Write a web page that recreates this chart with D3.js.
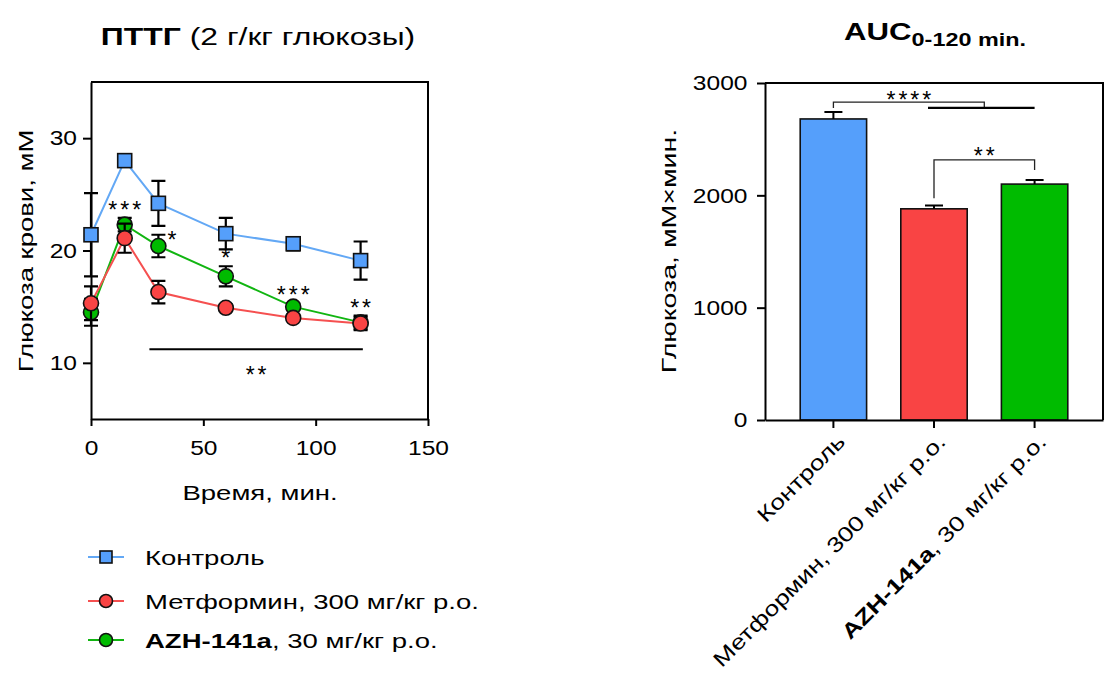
<!DOCTYPE html>
<html>
<head>
<meta charset="utf-8">
<script src="https://cdnjs.cloudflare.com/ajax/libs/d3/7.8.5/d3.min.js"></script>
<style>
    body { margin: 0; background: #fff; }
    svg text { font-family: "Liberation Sans", Arial, sans-serif; fill: #000; }
</style>
</head>
<body>
<svg id="chart" width="1105" height="673"></svg>
<script>
// ---- ПТТГ data (mean, error) ----
const timePoints = [0, 15, 30, 60, 90, 120];
const controlMean = [21.4, 28.0, 24.2, 21.5, 20.6, 19.1];
const controlErr = [3.7, 0.4, 2.0, 1.4, 0.6, 1.7];
const metforminMean = [15.3, 21.1, 16.3, 14.9, 14.0, 13.5];
const metforminErr = [1.5, 1.3, 1.0, 0.3, 0.3, 0.6];
const azhMean = [14.5, 22.3, 20.4, 17.7, 15.0, 13.6];
const azhErr = [1.2, 0.6, 1.0, 0.9, 0.3, 0.6];

const timeTicks = [0, 50, 100, 150];
const glucoseTicks = [10, 20, 30];

// significance marks at time points
const starTimes = [15, 30, 60, 90, 120];
const starLabels = ["***", "*", "*", "***", "**"];
const longBarRange = [26, 121];
const longBarLevel = 11.2;
const longBarLabel = "**";

// ---- AUC data ----
const groups = ["Контроль", "Метформин, 300 мг/кг p.o.", "AZH-141a, 30 мг/кг p.o."];
const aucMean = [2680, 1880, 2100];
const aucErr = [62, 30, 36];
const aucTicks = [0, 1000, 2000, 3000];

const colors = ["#559ffb", "#f94444", "#00bb00"];
const lineColors = ["#63a8f5", "#f55050", "#11b511"];

// text in the original is wider than Liberation Sans
const wideText = 1.31;
const wideDigits = 1.17;

var svg = d3.select("#chart");

function stretch(sel, k) {
    sel.each(function () {
        let t = d3.select(this);
        let tr = t.attr("transform") || "";
        t.attr("transform", tr + " scale(" + k + ",1)");
    });
}

function label(g, px, py, rot, size) {
    let tr = "translate(" + px + "," + py + ")";
    if (rot) tr += " rotate(" + rot + ")";
    return g.append("text")
        .attr("transform", tr)
        .attr("font-size", size);
}

function styleAxis(a) {
    a.select(".domain").attr("stroke-width", 2);
    a.selectAll(".tick line").attr("stroke-width", 2);
    a.selectAll("text")
        .attr("font-size", 21)
        .style("font-family", "Liberation Sans, Arial, sans-serif");
    stretch(a.selectAll("text"), wideDigits);
}

// ================= left chart =================
var x = d3.scaleLinear().domain([0, 150]).range([91, 428]);
var y = d3.scaleLinear().domain([5, 35]).range([419, 82]);

function drawLeft() {
    let g = svg.append("g").attr("class", "left");

    // frame top + right
    g.append("path")
        .attr("d", "M" + x(0) + "," + y(35) + "H" + x(150) + "V" + y(5))
        .attr("fill", "none")
        .attr("stroke", "#000")
        .attr("stroke-width", 2);

    let xAxis = g.append("g")
        .attr("transform", "translate(0," + y(5) + ")")
        .call(d3.axisBottom(x).tickValues(timeTicks).tickSize(7).tickSizeOuter(0).tickPadding(14));
    let yAxis = g.append("g")
        .attr("transform", "translate(" + x(0) + ",0)")
        .call(d3.axisLeft(y).tickValues(glucoseTicks).tickSize(8).tickSizeOuter(0).tickPadding(4));
    styleAxis(xAxis);
    styleAxis(yAxis);

    let xl = label(g, 260, 500, 0, 21).attr("text-anchor", "middle").text("Время, мин.");
    stretch(xl, wideText);
    let yl = label(g, 33, 251, -90, 21).attr("text-anchor", "middle").text("Глюкоза крови, мМ");
    stretch(yl, wideText);

    let title = label(g, 258, 45, 0, 24).attr("text-anchor", "middle");
    title.append("tspan").attr("font-weight", "bold").text("ПТТГ");
    title.append("tspan").text(" (2 г/кг глюкозы)");
    stretch(title, 1.33);

    let series = [
        {mean: azhMean, err: azhErr, color: colors[2], lc: lineColors[2], shape: "circle"},
        {mean: metforminMean, err: metforminErr, color: colors[1], lc: lineColors[1], shape: "circle"},
        {mean: controlMean, err: controlErr, color: colors[0], lc: lineColors[0], shape: "square"}
    ];

    let line = d3.line()
        .x((d, i) => x(timePoints[i]))
        .y(d => y(d));

    // lines underneath all markers
    series.forEach(s => {
        g.append("path")
            .attr("d", line(s.mean))
            .attr("fill", "none")
            .attr("stroke", s.lc)
            .attr("stroke-width", 2);
    });

    series.forEach(s => {
        let sg = g.append("g");
        s.mean.forEach((m, i) => {
            let cx = x(timePoints[i]);
            let y0 = y(m - s.err[i]);
            let y1 = y(m + s.err[i]);
            sg.append("path")
                .attr("d", "M" + cx + "," + y0 + "V" + y1 +
                    "M" + (cx - 7) + "," + y0 + "h14" +
                    "M" + (cx - 7) + "," + y1 + "h14")
                .attr("stroke", "#000")
                .attr("stroke-width", 2.2)
                .attr("fill", "none");
        });
        s.mean.forEach((m, i) => {
            let cx = x(timePoints[i]);
            if (s.shape === "square") {
                sg.append("rect")
                    .attr("x", cx - 7).attr("y", y(m) - 7)
                    .attr("width", 14).attr("height", 14)
                    .attr("fill", s.color)
                    .attr("stroke", "#111")
                    .attr("stroke-width", 1.6);
            } else {
                sg.append("circle")
                    .attr("cx", cx).attr("cy", y(m))
                    .attr("r", 7.5)
                    .attr("fill", s.color)
                    .attr("stroke", "#111")
                    .attr("stroke-width", 1.6);
            }
        });
    });

    // stars sit on top of the highest error bar of the treated groups
    starTimes.forEach((t, k) => {
        let i = timePoints.indexOf(t);
        let top = Math.max(azhMean[i] + azhErr[i], metforminMean[i] + metforminErr[i]);
        let sx = x(t) + 1.5;
        let sy = y(top);
        if (t === 30) {
            sx = x(t) + 15;
            sy = y(azhMean[i]) + 2;
        }
        g.append("text")
            .attr("x", sx).attr("y", sy)
            .attr("text-anchor", "middle")
            .attr("font-size", 23)
            .attr("letter-spacing", 3)
            .text(starLabels[k]);
    });

    g.append("line")
        .attr("x1", x(longBarRange[0])).attr("x2", x(longBarRange[1]))
        .attr("y1", y(longBarLevel)).attr("y2", y(longBarLevel))
        .attr("stroke", "#000")
        .attr("stroke-width", 2);
    g.append("text")
        .attr("x", (x(longBarRange[0]) + x(longBarRange[1])) / 2 + 1.5)
        .attr("y", y(longBarLevel) + 34)
        .attr("text-anchor", "middle")
        .attr("font-size", 23)
        .attr("letter-spacing", 3)
        .text(longBarLabel);

    // legend
    let names = [[null, "Контроль"], [null, "Метформин, 300 мг/кг p.o."], ["AZH-141a", ", 30 мг/кг p.o."]];
    let order = [2, 1, 0];
    let legendY = [557, 601, 640];
    names.forEach((n, k) => {
        let s = series[order[k]];
        let ly = legendY[k];
        g.append("line")
            .attr("x1", 88).attr("x2", 124)
            .attr("y1", ly).attr("y2", ly)
            .attr("stroke", s.lc).attr("stroke-width", 2);
        if (s.shape === "square") {
            g.append("rect")
                .attr("x", 100).attr("y", ly - 6)
                .attr("width", 12).attr("height", 12)
                .attr("fill", s.color).attr("stroke", "#111").attr("stroke-width", 1.6);
        } else {
            g.append("circle")
                .attr("cx", 106).attr("cy", ly).attr("r", 6.5)
                .attr("fill", s.color).attr("stroke", "#111").attr("stroke-width", 1.6);
        }
        let t = label(g, 145, ly + 8, 0, 21);
        if (n[0]) t.append("tspan").attr("font-weight", "bold").text(n[0]);
        t.append("tspan").text(n[1]);
        stretch(t, wideText);
    });
}

// ================= right chart =================
function drawRight() {
    let g = svg.append("g").attr("class", "right");
    let xb = d3.scaleBand().domain(groups).range([765, 1103]).paddingInner(0.34).paddingOuter(0.35);
    let yb = d3.scaleLinear().domain([0, 3000]).range([420, 83]);

    g.append("path")
        .attr("d", "M765," + yb(3000) + "H1103V" + yb(0))
        .attr("fill", "none")
        .attr("stroke", "#000")
        .attr("stroke-width", 2);

    g.selectAll("rect.bar")
        .data(groups)
        .enter().append("rect")
        .attr("class", "bar")
        .attr("x", d => xb(d))
        .attr("width", xb.bandwidth())
        .attr("y", (d, i) => yb(aucMean[i]))
        .attr("height", (d, i) => yb(0) - yb(aucMean[i]))
        .attr("fill", (d, i) => colors[i])
        .attr("stroke", "#111")
        .attr("stroke-width", 1.6);

    g.selectAll("path.err")
        .data(groups)
        .enter().append("path")
        .attr("class", "err")
        .attr("d", (d, i) => {
            let cx = xb(d) + xb.bandwidth() / 2;
            let y0 = yb(aucMean[i]);
            let y1 = yb(aucMean[i] + aucErr[i]);
            return "M" + cx + "," + y0 + "V" + y1 + "M" + (cx - 9) + "," + y1 + "h18";
        })
        .attr("stroke", "#000")
        .attr("stroke-width", 2)
        .attr("fill", "none");

    let xAxis = g.append("g")
        .attr("transform", "translate(0," + yb(0) + ")")
        .call(d3.axisBottom(xb).tickSize(8).tickSizeOuter(0).tickFormat(""));
    let yAxis = g.append("g")
        .attr("transform", "translate(765,0)")
        .call(d3.axisLeft(yb).tickValues(aucTicks).tickSize(8).tickSizeOuter(0).tickPadding(7).tickFormat(d3.format("d")));
    styleAxis(xAxis);
    styleAxis(yAxis);

    // rotated group labels
    groups.forEach((gname, i) => {
        let cx = xb(gname) + xb.bandwidth() / 2;
        let t = label(g, cx + 13, 443, -45, 21).attr("text-anchor", "end");
        if (i === 2) {
            let parts = gname.split(",");
            t.append("tspan").attr("font-weight", "bold").text(parts[0]);
            t.append("tspan").text("," + parts.slice(1).join(","));
        } else {
            t.text(gname);
        }
        stretch(t, 1.25);
    });

    let yl = label(g, 676, 251, -90, 21).attr("text-anchor", "middle").text("Глюкоза, мМ×мин.");
    stretch(yl, 1.36);

    let title = label(g, 935, 40, 0, 24)
        .attr("text-anchor", "middle")
        .attr("font-weight", "bold");
    title.append("tspan").text("AUC");
    title.append("tspan").attr("font-size", 18).attr("dy", 6).text("0-120 min.");
    stretch(title, 1.3);

    // significance brackets
    let cxs = groups.map(d => xb(d) + xb.bandwidth() / 2);
    let levelA = 2830, levelB = 2778;
    g.append("path")
        .attr("d", "M" + cxs[0] + "," + yb(levelB) + "V" + yb(levelA) +
            "H" + ((cxs[1] + cxs[2]) / 2) + "V" + yb(levelB))
        .attr("fill", "none").attr("stroke", "#222").attr("stroke-width", 1.3);
    g.append("line")
        .attr("x1", cxs[1] - 6).attr("x2", cxs[2])
        .attr("y1", yb(levelB)).attr("y2", yb(levelB))
        .attr("stroke", "#000").attr("stroke-width", 2.2);
    g.append("text")
        .attr("x", (cxs[0] + (cxs[1] + cxs[2]) / 2) / 2 + 1.5)
        .attr("y", yb(levelA) + 6)
        .attr("text-anchor", "middle").attr("font-size", 23).attr("letter-spacing", 3)
        .text("****");

    let lowB = 1975, highB = 2315, rightB = 2225;
    g.append("path")
        .attr("d", "M" + cxs[1] + "," + yb(lowB) + "V" + yb(highB) +
            "H" + cxs[2] + "V" + yb(rightB))
        .attr("fill", "none").attr("stroke", "#222").attr("stroke-width", 1.3);
    g.append("text")
        .attr("x", (cxs[1] + cxs[2]) / 2 + 1.5)
        .attr("y", yb(highB) + 4)
        .attr("text-anchor", "middle").attr("font-size", 23).attr("letter-spacing", 3)
        .text("**");
}

drawLeft();
drawRight();
</script>
</body>
</html>
